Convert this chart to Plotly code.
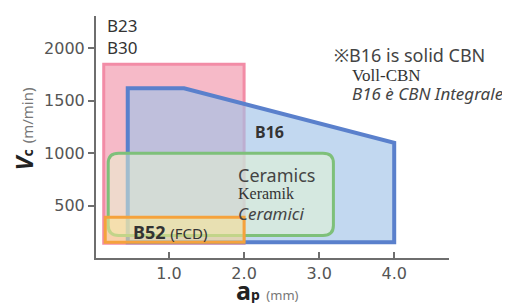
import plotly.graph_objects as go

# ---- data ----
b23_x = [0.13, 2.0]          # B23/B30 region: ap range
b23_y = [140, 1850]          # Vc range
b16_x = [0.45, 1.2, 4.0, 4.0, 0.45]
b16_y = [1620, 1620, 1100, 150, 150]
cer_x = [0.19, 3.19]         # Ceramics region
cer_y = [215, 1000]
b52_x = [0.15, 2.0]          # B52 (FCD)
b52_y = [150, 390]

x_ticks = [1.0, 2.0, 3.0, 4.0]
x_ticklabels = ["1.0", "2.0", "3.0", "4.0"]
y_ticks = [500, 1000, 1500, 2000]
y_ticklabels = ["500", "1000", "1500", "2000"]

X_RANGE = [0.027, 4.73]
Y_RANGE = [0, 2310]

fig = go.Figure()

def rect_path(xs, ys):
    return f"M{xs[0]},{ys[0]} L{xs[1]},{ys[0]} L{xs[1]},{ys[1]} L{xs[0]},{ys[1]} Z"

def poly_path(xs, ys):
    p = "M" + " L".join(f"{x},{y}" for x, y in zip(xs, ys))
    return p + " Z"

def round_rect_path(xs, ys, rx, ry):
    x0, x1 = xs
    y0, y1 = ys
    return (f"M{x0+rx},{y0} L{x1-rx},{y0} Q{x1},{y0} {x1},{y0+ry} "
            f"L{x1},{y1-ry} Q{x1},{y1} {x1-rx},{y1} "
            f"L{x0+rx},{y1} Q{x0},{y1} {x0},{y1-ry} "
            f"L{x0},{y0+ry} Q{x0},{y0} {x0+rx},{y0} Z")

fig.add_shape(type="path", path=rect_path(b23_x, b23_y), xref="x", yref="y",
              fillcolor="#f6bac8", line=dict(color="#f28ca6", width=3))
fig.add_shape(type="path", path=poly_path(b16_x, b16_y), xref="x", yref="y",
              fillcolor="rgba(160,194,232,0.64)", line=dict(color="#5a80cc", width=4))
fig.add_shape(type="path", path=round_rect_path(cer_x, cer_y, 0.14, 95), xref="x", yref="y",
              fillcolor="rgba(232,248,208,0.5)", line=dict(color="#7ec07a", width=3))
fig.add_shape(type="path", path=rect_path(b52_x, b52_y), xref="x", yref="y",
              fillcolor="rgba(250,228,150,0.55)", line=dict(color="#f5a23c", width=3))

# invisible trace to establish axes
fig.add_trace(go.Scatter(x=[X_RANGE[0]], y=[Y_RANGE[0]], mode="markers",
                         marker=dict(opacity=0), hoverinfo="skip", showlegend=False))

SANS = "Noto Sans"
SERIF = "Liberation Serif"
TXT = "#333333"

def ann(x, y, text, size=15, family=SANS, color=TXT, xanchor="left", xref="x", yref="y"):
    fig.add_annotation(x=x, y=y, xref=xref, yref=yref, text=text, showarrow=False,
                       xanchor=xanchor, yanchor="middle", borderpad=0,
                       font=dict(size=size, family=family, color=color))

ann(0.16, 2220, "B23", 17)
ann(0.16, 2010, "B30", 17)
ann(2.13, 1200, "<b>B16</b>", 16)
ann(1.90, 790, "Ceramics", 18, color="#444")
ann(1.90, 616, "Keramik", 16, family=SERIF, color="#333")
ann(1.90, 423, "<i>Ceramici</i>", 17, color="#444")
ann(0.50, 244, "<b>B52</b> <span style='font-size:15px'>(FCD)</span>", 18)

ann(3.19, 1936, "※B16 is solid CBN", 18, color="#444")
ann(3.42, 1742, "Voll-CBN", 17, family=SERIF, color="#333")
ann(3.42, 1568, "<i>B16 è CBN Integrale</i>", 17, color="#444")

# axis titles (paper coords relative to plot area)
fig.add_annotation(x=-0.205, y=0.535, xref="paper", yref="paper", showarrow=False,
                   textangle=-90, xanchor="center", yanchor="middle", borderpad=0,
                   text="<b><i>V</i></b><span style='font-size:14px'><b>c</b></span> "
                        "<span style='font-size:15px;color:#777'>(m/min)</span>",
                   font=dict(size=23, family=SANS, color="#222"))
fig.add_annotation(x=0.487, y=-0.132, xref="paper", yref="paper", showarrow=False,
                   xanchor="center", yanchor="middle", borderpad=0,
                   text="<b>a</b><span style='font-size:14px'><b>p</b></span> "
                        "<span style='font-size:13px;color:#777'>(mm)</span>",
                   font=dict(size=25, family=SANS, color="#222"))

fig.update_xaxes(range=X_RANGE, tickvals=x_ticks, ticktext=x_ticklabels,
                 showgrid=False, zeroline=False, showline=True, linecolor="#6e6e6e", linewidth=2,
                 ticks="inside", ticklen=6, tickwidth=1.5, tickcolor="#6e6e6e",
                 tickfont=dict(size=16, family="DejaVu Sans", color="#555"))
fig.update_yaxes(range=Y_RANGE, tickvals=y_ticks, ticktext=y_ticklabels,
                 showgrid=False, zeroline=False, showline=True, linecolor="#6e6e6e", linewidth=2,
                 ticks="outside", ticklen=6, tickwidth=1.5, tickcolor="#6e6e6e",
                 tickfont=dict(size=16, family="DejaVu Sans", color="#555"))

# page body has an 8px default margin, so the figure is sized/offset accordingly
fig.update_layout(width=502, height=298, margin=dict(l=88, r=61, t=8, b=48),
                  plot_bgcolor="white", paper_bgcolor="white", showlegend=False)

fig.write_html("out.html")
